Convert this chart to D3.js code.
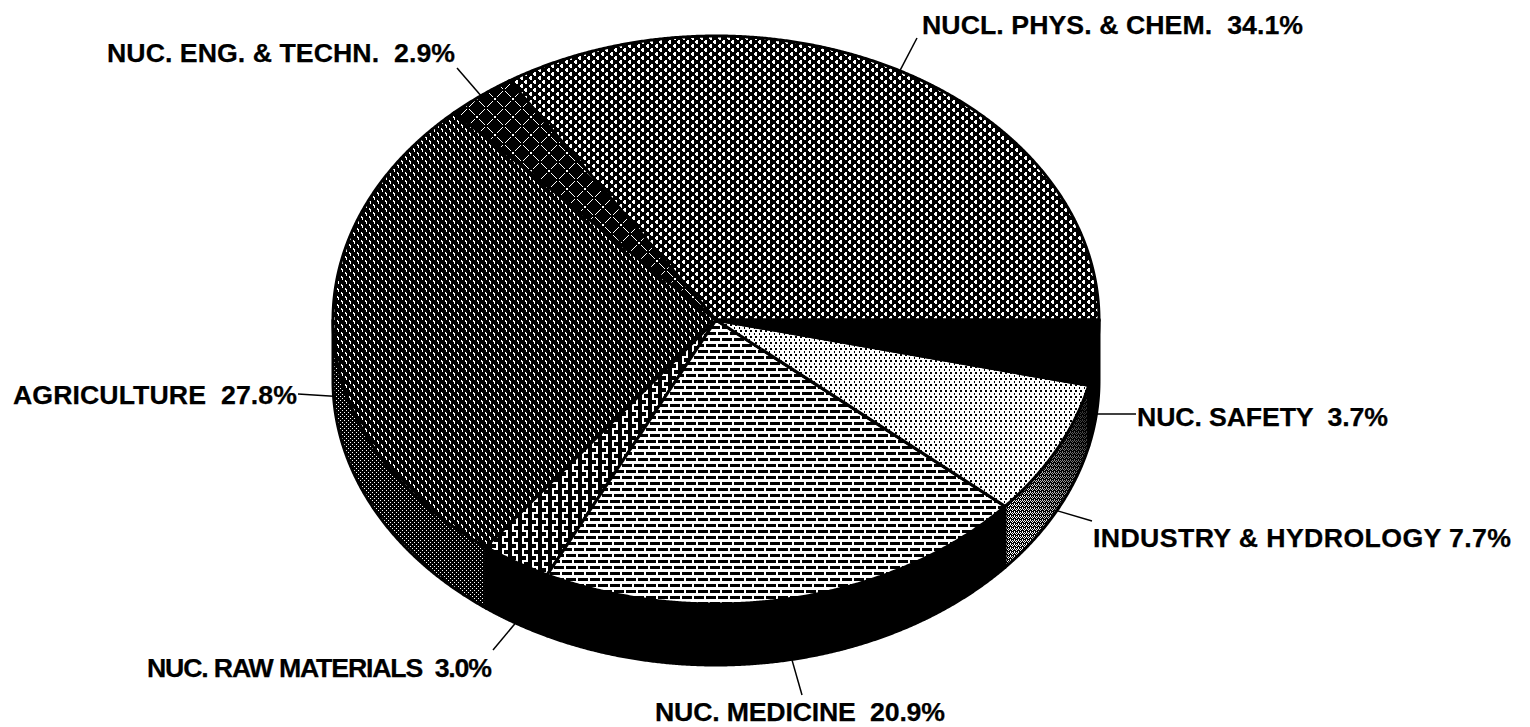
<!DOCTYPE html>
<html>
<head>
<meta charset="utf-8">
<script src="https://d3js.org/d3.v7.min.js"></script>
<style>
html,body{margin:0;padding:0;background:#fff;overflow:hidden}
text{font-family:"Liberation Sans",Arial,sans-serif;font-weight:bold;font-size:26.7px;fill:#000;stroke:#000;stroke-width:0.25px;white-space:pre}
</style>
</head>
<body>
<svg id="chart" width="1530" height="727"></svg>
<script>
// ---- data ----
const categories = ["NUCL. PHYS. & CHEM.","NUC. ENG. & TECHN.","AGRICULTURE","NUC. RAW MATERIALS","NUC. MEDICINE","INDUSTRY & HYDROLOGY","NUC. SAFETY"];
const values = [34.1,2.9,27.8,3.0,20.9,7.7,3.7];
const labelGaps = ["  ","  ","  ","  ","  "," ","  "];

// ---- layout (label anchor: left x, baseline y, drawn width) ----
const labelX = [922,107,13,147,655,1093,1137];
const labelY = [34,62,404,677,721,547,426];
const labelW = [381,348,284,345,290,418,251];
const leaderEnd = [[917,38],[457,68],[298,394],[493,650],[802,695],[1092,521],[1136,414]];

// ---- fill bitmaps ('#' = white pixel on black) ----
const bmPhys = ["...##....","..###....","..###....","...##....","#.......#","#......##","#......##","#.......#"];
const bmEng = ["..................",".#..............#.","..#............#..","...#..........#...","....#........#....",".....#......#.....","......#....#......","..................","........##........","........##........","..................","......#....#......",".....#......#.....","....#........#....","...#..........#...","..#............#..",".#..............#.",".................."];
const bmAgri = [".#......",".##.....","..#.....","..#.....",".....#..",".....##.","......#.","......#."];
const bmRaw = ["..##......","..##......","..######..","..######..","......##..","......##..","......##..","......##..","..######..","..######..","..##......","..##......"];
const bmBrick = ["############","############","##..........","##..........","##..........","############","############","############","........##..","........##..","........##..","############"];
const bmDots = ["..###","..###","#####","####.","####.","#####"];
const bmWallAgri = ["#...","....","..#.","...."];
const bmWallInd = ["#.#.",".#.#","#...","..#."];
const fills = [
  {id:"p0",bits:bmPhys},{id:"p1",bits:bmEng},{id:"p2",bits:bmAgri},{id:"p3",bits:bmRaw},
  {id:"p4",bits:bmBrick},{id:"p5",bits:bmDots},{id:"p6",bits:null}
];
const wallFills = [null,null,"wa",null,null,"wi",null];

const cx=716, cy=320, rx=383, ry=284, depth=61;
const svg=d3.select("#chart");
const defs=svg.append("defs");
function addPattern(id,bits){
  const h=bits.length,w=bits[0].length;
  const p=defs.append("pattern").attr("id",id).attr("patternUnits","userSpaceOnUse").attr("width",w).attr("height",h);
  p.append("rect").attr("width",w).attr("height",h).attr("fill","#000");
  bits.forEach((row,y)=>{[...row].forEach((c,x)=>{ if(c==="#") p.append("rect").attr("x",x).attr("y",y).attr("width",1).attr("height",1).attr("fill","#fff").attr("shape-rendering","crispEdges");});});
}
fills.forEach(f=>{if(f.bits)addPattern(f.id,f.bits);});
addPattern("wa",bmWallAgri);
addPattern("wi",bmWallInd);
const grad=defs.append("linearGradient").attr("id","shade").attr("x1","0").attr("y1","1").attr("x2","1").attr("y2","0");
grad.append("stop").attr("offset","0.25").attr("stop-color","#000").attr("stop-opacity",0);
grad.append("stop").attr("offset","0.9").attr("stop-color","#000").attr("stop-opacity",0.8);

const xS=d3.scaleLinear().domain([-1,1]).range([cx-rx,cx+rx]);
const yS=d3.scaleLinear().domain([-1,1]).range([cy+ry,cy-ry]);
const pie=d3.pie().sort(null).startAngle(0).endAngle(2*Math.PI);
const arcs=pie(values);
const line=d3.line().x(d=>d[0]).y(d=>d[1]);
const pt=(t,dy=0)=>[xS(Math.cos(t)),yS(Math.sin(t))+dy];
const samples=(a,b)=>{const n=Math.max(2,Math.ceil((b-a)/0.004));return d3.range(n+1).map(i=>a+(b-a)*i/n);};

// side walls: only the front half of the rim (angles pi..2pi)
arcs.forEach((d,i)=>{
  const a=Math.max(d.startAngle,Math.PI),b=Math.min(d.endAngle,2*Math.PI);
  if(b<=a) return;
  const ts=samples(a,b);
  const poly=ts.map(t=>pt(t)).concat(ts.slice().reverse().map(t=>pt(t,depth)));
  const fill=wallFills[i]?`url(#${wallFills[i]})`:"#000";
  svg.append("path").attr("d",line(poly)+"Z").attr("fill",fill).attr("stroke","#000").attr("stroke-width",3).attr("stroke-linejoin","round");
  if(wallFills[i]==="wi") svg.append("path").attr("d",line(poly)+"Z").attr("fill","url(#shade)");
});
// top faces
arcs.forEach((d,i)=>{
  const ts=samples(d.startAngle,d.endAngle);
  const poly=[[cx,cy]].concat(ts.map(t=>pt(t)));
  const fill=fills[i].bits?`url(#${fills[i].id})`:"#000";
  svg.append("path").attr("d",line(poly)+"Z").attr("fill",fill).attr("stroke","#000").attr("stroke-width",3).attr("stroke-linejoin","miter");
});
// leaders start on the rim at each slice's mid-angle
arcs.forEach((d,i)=>{
  const m=(d.startAngle+d.endAngle)/2;
  const s=pt(m,m>Math.PI?depth:0);
  svg.append("line").attr("x1",s[0]).attr("y1",s[1]).attr("x2",leaderEnd[i][0]).attr("y2",leaderEnd[i][1]).attr("stroke","#000").attr("stroke-width",1.5);
});
// labels
categories.forEach((c,i)=>{
  svg.append("text").attr("x",labelX[i]).attr("y",labelY[i]).attr("textLength",labelW[i]).attr("lengthAdjust","spacing").text(c+labelGaps[i]+values[i].toFixed(1)+"%");
});
</script>
</body>
</html>
